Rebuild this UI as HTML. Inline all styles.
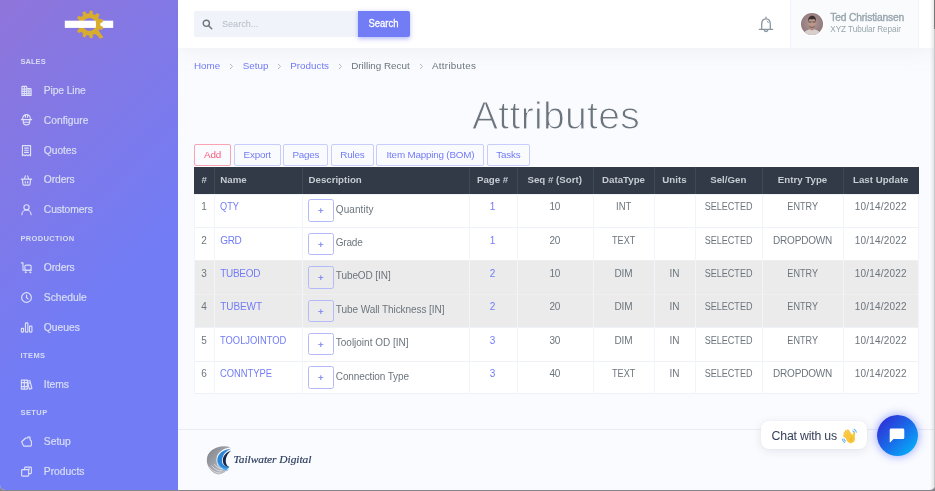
<!DOCTYPE html>
<html lang="en">
<head>
<meta charset="utf-8">
<title>Attributes</title>
<style>
*{box-sizing:border-box;margin:0;padding:0}
html{width:935px;height:491px;overflow:hidden;background:#85858b}
body{position:relative;width:935px;height:490px;overflow:hidden;border-radius:0 0 5px 5px;background:#fafbfe;font-family:"Liberation Sans",sans-serif;font-size:9.86px;color:#6c757d;line-height:1.5}
a{text-decoration:none;color:#727cf5}
.abs{position:absolute}
/* sidebar */
#side{position:absolute;left:0;top:0;width:178px;height:490px;background:linear-gradient(135deg,#8f75da 0,#727cf5 60%);z-index:5}
.st{position:absolute;left:20.5px;font-size:7.5px;font-weight:700;letter-spacing:.42px;color:#d6dcf2;line-height:10px;white-space:nowrap}
.sl{position:absolute;left:43.8px;font-size:10.3px;color:#d8def4;-webkit-text-stroke:.2px #d8def4;line-height:14px;white-space:nowrap}
.si{position:absolute;left:20px;width:13px;height:13px}
.si svg{display:block;width:13px;height:13px;fill:none;stroke:#dde2f6;stroke-width:2.1;stroke-linecap:round;stroke-linejoin:round}
/* topbar */
#top{position:absolute;left:178px;top:0;width:757px;height:48px;background:#fff;box-shadow:0 0 24px 0 rgba(154,161,171,.15);z-index:3}
#srch{position:absolute;left:16px;top:11px;width:165px;height:26px;background:#f1f3fa;border-radius:2px 0 0 2px}
#srch span{transform-origin:0 50%;position:absolute;left:27.5px;top:6px;font-size:9.8px;line-height:14px;color:#b3bcc5}
#sbtn span{display:inline-block}
#sbtn{position:absolute;left:180px;top:11px;width:51.7px;height:26px;background:#727cf5;border-radius:0 2px 2px 0;color:#fff;font-size:10.4px;-webkit-text-stroke:.3px #fff;line-height:26px;text-align:center;box-shadow:0 1.4px 4px 0 rgba(114,124,245,.5)}
#user{position:absolute;left:612px;top:0;width:129px;height:48px;background:#fafbfd;border-left:1px solid #f1f3fa;border-right:1px solid #f1f3fa}
#ava{position:absolute;left:10.4px;top:13px;width:22px;height:22px;border-radius:50%;overflow:hidden;box-shadow:0 0 0 1px #fff}
#uname{position:absolute;left:39.3px;top:10.8px;font-size:10.3px;line-height:14px;color:#98a6ad;font-weight:400;-webkit-text-stroke:.35px #98a6ad;white-space:nowrap}
#upos{position:absolute;left:39.3px;top:23.5px;font-size:8.2px;line-height:11px;color:#98a6ad;white-space:nowrap}
/* content */
#bc{position:absolute;left:194px;top:59.2px;font-size:9.86px;line-height:14px;white-space:nowrap}
#bc span,#bc a{position:absolute;top:0}
#bc svg{position:absolute;top:4.2px}
#bc .sep{color:#c3c9d0;font-size:8px}
#title{position:absolute;left:378px;width:356px;top:92.8px;letter-spacing:.3px;text-align:center;font-size:39.1px;line-height:46px;color:#6c757d;font-weight:400;white-space:nowrap;-webkit-text-stroke:1.05px #fafbfe}
.btn{position:absolute;top:144.3px;height:21.7px;border:1px solid #c9cdfb;border-radius:2px;color:#727cf5;font-size:9.86px;line-height:19.7px;text-align:center;white-space:nowrap;background:#fafbfe;letter-spacing:-.2px}
.btn.d{border-color:#fba3b5;color:#fa5c7c}
/* table */
#tbl{position:absolute;left:194px;top:166px;width:725px;height:228px;background:#fff}
#th{position:absolute;left:0;top:.5px;width:100%;height:27px;background:#313a46}
.hc{position:absolute;top:6.5px;font-size:9.7px;line-height:14px;font-weight:700;color:#c6ccd3;white-space:nowrap;text-align:center}
.row{position:absolute;left:0;width:100%;height:33.4px;border-top:1px solid #eef2f7}
.row.g{background:#ebebeb;border-top-color:#efefef}
.c{position:absolute;top:5.8px;font-size:10px;line-height:14px;white-space:nowrap;text-align:center;color:#6c757d}
a.c{color:#727cf5}
.c{transform-origin:50% 50%}
.c.l{transform-origin:0 50%}
#uname,.ds{transform-origin:0 50%}

.c.l{text-align:left}
.pb{position:absolute;left:114.2px;top:4.9px;width:25.4px;height:22.5px;border:1px solid #b4b9fa;border-radius:2.5px;background:transparent;color:#727cf5;text-align:center;line-height:22px;font-size:9.5px;-webkit-text-stroke:.2px #727cf5}
.ds{position:absolute;left:141.8px;top:8.2px;font-size:10px;line-height:14px;white-space:nowrap}
.vl{position:absolute;top:0;width:1px;height:228px;background:#f1f4f9}
.vh{position:absolute;top:0;width:1px;height:27px;background:#3f4956}
</style>
</head>
<body>

<!-- SIDEBAR -->
<div id="side">
  <svg class="abs" style="left:0;top:0" width="178" height="48" viewBox="0 0 178 48">
    <defs><clipPath id="gc"><rect x="95.7" y="14" width="12" height="20"/></clipPath></defs>
    <path id="gr" d="M100.3 25.6L103.1 27.0L102.3 29.6L99.2 29.3L98.0 31.3L99.5 34.0L97.4 35.7L95.0 33.9L92.9 34.8L92.7 37.9L90.0 38.3L89.0 35.4L86.7 35.1L84.9 37.5L82.4 36.4L83.1 33.4L81.3 31.9L78.5 33.0L77.0 30.7L79.2 28.6L78.6 26.3L75.6 25.7L75.6 23.1L78.6 22.5L79.2 20.2L77.0 18.1L78.5 15.8L81.3 16.9L83.1 15.4L82.4 12.4L84.9 11.3L86.7 13.7L89.0 13.4L90.0 10.5L92.7 10.9L92.9 14.0L95.0 14.9L97.4 13.1L99.5 14.8L98.0 17.5L99.2 19.5L102.3 19.2L103.1 21.8L100.3 23.2zM82.9 24.4a6.5 6.5 0 1 0 13.0 0a6.5 6.5 0 1 0 -13.0 0z" fill="#d8ac2d" fill-rule="evenodd"/>
    <path d="M93.6 30.6L96.8 28L103.5 37.4L99.9 38.7z" fill="#d8ac2d"/>
    <rect x="64.8" y="20.7" width="48.4" height="7.2" fill="#fff"/>
    <path d="M100.3 25.6L103.1 27.0L102.3 29.6L99.2 29.3L98.0 31.3L99.5 34.0L97.4 35.7L95.0 33.9L92.9 34.8L92.7 37.9L90.0 38.3L89.0 35.4L86.7 35.1L84.9 37.5L82.4 36.4L83.1 33.4L81.3 31.9L78.5 33.0L77.0 30.7L79.2 28.6L78.6 26.3L75.6 25.7L75.6 23.1L78.6 22.5L79.2 20.2L77.0 18.1L78.5 15.8L81.3 16.9L83.1 15.4L82.4 12.4L84.9 11.3L86.7 13.7L89.0 13.4L90.0 10.5L92.7 10.9L92.9 14.0L95.0 14.9L97.4 13.1L99.5 14.8L98.0 17.5L99.2 19.5L102.3 19.2L103.1 21.8L100.3 23.2zM82.9 24.4a6.5 6.5 0 1 0 13.0 0a6.5 6.5 0 1 0 -13.0 0z" fill="#d8ac2d" fill-rule="evenodd" clip-path="url(#gc)"/>
  </svg>

  <div class="st" style="top:56.8px;letter-spacing:0.04px">SALES</div>
  <div class="st" style="top:233.5px;letter-spacing:0.35px">PRODUCTION</div>
  <div class="st" style="top:350.5px">ITEMS</div>
  <div class="st" style="top:408px">SETUP</div>

  <div class="sl" style="top:84px;letter-spacing:-0.12px">Pipe Line</div>
  <div class="sl" style="top:113.8px;letter-spacing:-0.01px">Configure</div>
  <div class="sl" style="top:143.6px;letter-spacing:-0.07px">Quotes</div>
  <div class="sl" style="top:173.4px;letter-spacing:-0.1px">Orders</div>
  <div class="sl" style="top:203.2px;letter-spacing:-0.09px">Customers</div>
  <div class="sl" style="top:260.9px;letter-spacing:-0.1px">Orders</div>
  <div class="sl" style="top:290.7px">Schedule</div>
  <div class="sl" style="top:320.5px">Queues</div>
  <div class="sl" style="top:377.7px">Items</div>
  <div class="sl" style="top:435.2px">Setup</div>
  <div class="sl" style="top:465px">Products</div>

  <!-- icons -->
  <div class="si" style="top:84.4px"><svg viewBox="0 0 24 24"><path d="M3.5 21V5.7c0-.8.4-1.2 1.2-1.2h6.6c.8 0 1.2.4 1.2 1.2V21M12.5 8.5h6.8c.8 0 1.2.4 1.2 1.2V21M3.5 21h17M3.5 9.5h9M3.5 13.5h9M3.5 17.5h9M12.5 13h8M12.5 17h8M8 4.5V21M16.5 8.5V21"/></svg></div>
  <div class="si" style="top:113.3px"><svg viewBox="0 0 24 24"><path d="M5 12v-2a7 7 0 0 1 14 0v2M2.5 12.2h19M6 12.5V16a6 6 0 0 0 12 0v-3.5M10 3.8V8M14 3.8V8M6.5 17h11"/></svg></div>
  <div class="si" style="top:143.5px"><svg viewBox="0 0 24 24"><path d="M4.5 3h15v18.5l-2.5-1.5-2.5 1.5L12 20l-2.5 1.5L7 20l-2.5 1.5zM8.5 7.5h7M8.5 11.5h7M8.5 15.5h7"/></svg></div>
  <div class="si" style="top:173.5px"><svg viewBox="0 0 24 24"><path d="M2.5 9.5h19M4.5 9.5l1 9.5c.1 1 .8 1.5 1.7 1.5h9.6c.9 0 1.6-.5 1.7-1.5l1-9.5M8 9l2-5.5M16 9l-2-5.5M9.8 14v2.5M14.2 14v2.5"/></svg></div>
  <div class="si" style="top:202.8px"><svg viewBox="0 0 24 24"><circle cx="12" cy="8" r="4.8"/><path d="M3.5 21.5a8.5 8.5 0 0 1 17 0"/></svg></div>
  <div class="si" style="top:260.8px"><svg viewBox="0 0 24 24"><path d="M2.5 3.5h3v13.5h15.5"/><rect x="9" y="7.5" width="11.5" height="9.5" rx="2.5"/><circle cx="10.5" cy="20.8" r="1.2" fill="#dde2f6" stroke-width="1.2"/><circle cx="19" cy="20.8" r="1.2" fill="#dde2f6" stroke-width="1.2"/></svg></div>
  <div class="si" style="top:290.8px"><svg viewBox="0 0 24 24"><circle cx="12" cy="12" r="9"/><path d="M12 7.5V12l2.8 2.5"/></svg></div>
  <div class="si" style="top:320.6px"><svg viewBox="0 0 24 24"><rect x="2.5" y="13.5" width="4" height="7" rx="1"/><rect x="10" y="3.5" width="4.5" height="17" rx="1"/><rect x="17.5" y="9.5" width="4.5" height="11" rx="1"/></svg></div>
  <div class="si" style="top:377.8px"><svg viewBox="0 0 24 24"><path d="M2.5 4h5.5v16.5H2.5zM8 4h5.5v16.5H8zM13.5 6l4.7-1.3L22 19.2l-4.7 1.3zM2.5 8.5h5.5M8 8.5h5.5M2.5 16h5.5M8 16h5.5M14.6 10l4.6-1.3"/></svg></div>
  <div class="si" style="top:435.4px"><svg viewBox="0 0 24 24"><path d="M3 12.5L10.5 5.5h4V4h4v4.5l2.5 3v7.5c0 1-.5 1.5-1.5 1.5h-12c-1 0-1.5-.5-1.5-1.5z"/></svg></div>
  <div class="si" style="top:465px"><svg viewBox="0 0 24 24"><path d="M8.5 8.5V5.5c0-1 .5-1.5 1.5-1.5h9.5c1 0 1.5.5 1.5 1.5v9c0 1-.5 1.5-1.5 1.5h-3"/><rect x="3" y="8.5" width="13" height="12" rx="1.5"/><path d="M16 7.5h1.5"/></svg></div>
</div>

<!-- TOPBAR -->
<div id="top">
  <div id="srch">
    <svg class="abs" style="left:8.2px;top:7.6px" width="11" height="11" viewBox="0 0 12 12"><circle cx="4.7" cy="4.7" r="3.4" fill="none" stroke="#6c757d" stroke-width="1.5"/><path d="M7.3 7.3l3.3 3.3" stroke="#6c757d" stroke-width="1.6" stroke-linecap="round"/></svg>
    <span style="transform:scaleX(0.928)">Search...</span>
  </div>
  <div id="sbtn"><span style="transform:scaleX(0.911)">Search</span></div>
  <svg class="abs" style="left:579px;top:15px" width="18" height="19" viewBox="0 0 18 19"><path d="M9 2.2v1.3M4.7 14.2V9.2c0-3.2 1.8-5.4 4.3-5.4s4.3 2.2 4.3 5.4v5M2.4 14.4h13.2M7.3 15.3a1.8 1.8 0 0 0 3.4 0" fill="none" stroke="#8896a0" stroke-width="1.3" stroke-linecap="round" stroke-linejoin="round"/><path d="M10.4 6.2l.9 1.3" stroke="#8896a0" stroke-width="1" stroke-linecap="round"/></svg>
  <div id="user">
    <div id="ava">
      <svg width="22" height="22" viewBox="0 0 22 22"><defs><radialGradient id="ag" cx="50%" cy="45%" r="60%"><stop offset="0" stop-color="#b09a9b"/><stop offset="1" stop-color="#8c7477"/></radialGradient></defs><rect width="22" height="22" fill="url(#ag)"/><path d="M2.5 22c.3-3.5 2.5-5 5.5-5.6l3-.4 3 .4c3 .6 5.2 2.1 5.5 5.6z" fill="#d9d0ce"/><path d="M9.3 13.5h3.4v3.2c-1 .9-2.4.9-3.4 0z" fill="#b08c7e"/><ellipse cx="11" cy="10" rx="3.5" ry="4.6" fill="#bd9888"/><path d="M7.3 9.2c-.6-4 1-6.4 3.9-6.4 2.8 0 4.3 2.4 3.6 6.4-.3-1.8-.8-2.8-1.5-3.2-1.5.5-3 .5-4.6 0-.7.5-1.1 1.4-1.4 3.2z" fill="#3b2f30"/><path d="M7.7 9h2.8M11.5 9h2.8" stroke="#4a3b3a" stroke-width=".9"/><path d="M8 12c.6 2.6 5.4 2.6 6 0 0 3.6-6 3.6-6 0z" fill="#5d4843"/></svg>
    </div>
    <div id="uname" style="letter-spacing:-0.18px">Ted Christiansen</div>
    <div id="upos" style="letter-spacing:-0.07px">XYZ Tubular Repair</div>
  </div>
</div>

<!-- BREADCRUMB -->
<div id="bc">
  <a style="left:0">Home</a><svg class="sep" style="left:35.1px" width="5" height="7" viewBox="0 0 5 7"><path d="M1 1l2.6 2.5L1 6" fill="none" stroke="#b4bcc4" stroke-width="1"/></svg>
  <a style="left:48.7px">Setup</a><svg class="sep" style="left:82.6px" width="5" height="7" viewBox="0 0 5 7"><path d="M1 1l2.6 2.5L1 6" fill="none" stroke="#b4bcc4" stroke-width="1"/></svg>
  <a style="left:96.2px">Products</a><svg class="sep" style="left:144.2px" width="5" height="7" viewBox="0 0 5 7"><path d="M1 1l2.6 2.5L1 6" fill="none" stroke="#b4bcc4" stroke-width="1"/></svg>
  <span style="left:157.2px;color:#6c757d">Drilling Recut</span><svg class="sep" style="left:225.0px" width="5" height="7" viewBox="0 0 5 7"><path d="M1 1l2.6 2.5L1 6" fill="none" stroke="#b4bcc4" stroke-width="1"/></svg>
  <span style="left:238px;color:#6c757d;letter-spacing:.27px">Attributes</span>
</div>

<div id="title">Attributes</div>

<!-- BUTTONS -->
<div class="btn d" style="left:194px;width:37px">Add</div>
<div class="btn" style="left:233.8px;width:46.8px">Export</div>
<div class="btn" style="left:283.4px;width:44.9px">Pages</div>
<div class="btn" style="left:331.1px;width:42.6px">Rules</div>
<div class="btn" style="left:376.4px;width:108.1px">Item Mapping (BOM)</div>
<div class="btn" style="left:487.3px;width:42.3px">Tasks</div>

<!-- TABLE -->
<div id="tbl">
  <div class="row" style="top:27.5px">
    <div class="c l" style="left:7.2px">1</div>
    <a class="c l nm" style="left:26.3px;transform:scaleX(0.919)">QTY</a>
    <div class="pb">+</div><div class="ds" style="letter-spacing:0.07px">Quantity</div>
    <a class="c" style="left:274.5px;width:48.1px">1</a>
    <div class="c" style="left:322.6px;width:76.2px;letter-spacing:-0.26px">10</div>
    <div class="c up" style="left:398.8px;width:61.4px;transform:scaleX(0.944)">INT</div>
    <div class="c up s5" style="left:500.7px;width:67.2px;transform:scaleX(0.905)">SELECTED</div>
    <div class="c up s5" style="left:567.9px;width:81.3px;transform:scaleX(0.908)">ENTRY</div>
    <div class="c dt" style="left:649.2px;width:75.2px;letter-spacing:0.18px">10/14/2022</div>
  </div>
  <div class="row" style="top:60.9px">
    <div class="c l" style="left:7.2px">2</div>
    <a class="c l nm" style="left:26.3px;letter-spacing:-0.34px">GRD</a>
    <div class="pb">+</div><div class="ds" style="letter-spacing:-0.22px">Grade</div>
    <a class="c" style="left:274.5px;width:48.1px">1</a>
    <div class="c" style="left:322.6px;width:76.2px;letter-spacing:-0.26px">20</div>
    <div class="c up s5" style="left:398.8px;width:61.4px;transform:scaleX(0.911)">TEXT</div>
    <div class="c up s5" style="left:500.7px;width:67.2px;transform:scaleX(0.905)">SELECTED</div>
    <div class="c up" style="left:567.9px;width:81.3px;letter-spacing:-0.16px">DROPDOWN</div>
    <div class="c dt" style="left:649.2px;width:75.2px;letter-spacing:0.18px">10/14/2022</div>
  </div>
  <div class="row g" style="top:94.3px">
    <div class="c l" style="left:7.2px">3</div>
    <a class="c l nm" style="left:26.3px;letter-spacing:-0.31px">TUBEOD</a>
    <div class="pb">+</div><div class="ds" style="letter-spacing:-0.09px">TubeOD [IN]</div>
    <a class="c" style="left:274.5px;width:48.1px">2</a>
    <div class="c" style="left:322.6px;width:76.2px;letter-spacing:-0.26px">10</div>
    <div class="c up" style="left:398.8px;width:61.4px;letter-spacing:-0.11px">DIM</div>
    <div class="c up" style="left:460.2px;width:40.5px">IN</div>
    <div class="c up s5" style="left:500.7px;width:67.2px;transform:scaleX(0.905)">SELECTED</div>
    <div class="c up s5" style="left:567.9px;width:81.3px;transform:scaleX(0.908)">ENTRY</div>
    <div class="c dt" style="left:649.2px;width:75.2px;letter-spacing:0.18px">10/14/2022</div>
  </div>
  <div class="row g" style="top:127.7px">
    <div class="c l" style="left:7.2px">4</div>
    <a class="c l nm" style="left:26.3px;letter-spacing:-0.09px">TUBEWT</a>
    <div class="pb">+</div><div class="ds" style="letter-spacing:-0.07px">Tube Wall Thickness [IN]</div>
    <a class="c" style="left:274.5px;width:48.1px">2</a>
    <div class="c" style="left:322.6px;width:76.2px;letter-spacing:-0.26px">20</div>
    <div class="c up" style="left:398.8px;width:61.4px;letter-spacing:-0.11px">DIM</div>
    <div class="c up" style="left:460.2px;width:40.5px">IN</div>
    <div class="c up s5" style="left:500.7px;width:67.2px;transform:scaleX(0.905)">SELECTED</div>
    <div class="c up s5" style="left:567.9px;width:81.3px;transform:scaleX(0.908)">ENTRY</div>
    <div class="c dt" style="left:649.2px;width:75.2px;letter-spacing:0.18px">10/14/2022</div>
  </div>
  <div class="row" style="top:161.1px">
    <div class="c l" style="left:7.2px">5</div>
    <a class="c l nm" style="left:26.3px;transform:scaleX(0.938)">TOOLJOINTOD</a>
    <div class="pb">+</div><div class="ds" style="letter-spacing:-0.01px">Tooljoint OD [IN]</div>
    <a class="c" style="left:274.5px;width:48.1px">3</a>
    <div class="c" style="left:322.6px;width:76.2px;letter-spacing:-0.26px">30</div>
    <div class="c up" style="left:398.8px;width:61.4px;letter-spacing:-0.11px">DIM</div>
    <div class="c up" style="left:460.2px;width:40.5px">IN</div>
    <div class="c up s5" style="left:500.7px;width:67.2px;transform:scaleX(0.905)">SELECTED</div>
    <div class="c up s5" style="left:567.9px;width:81.3px;transform:scaleX(0.908)">ENTRY</div>
    <div class="c dt" style="left:649.2px;width:75.2px;letter-spacing:0.18px">10/14/2022</div>
  </div>
  <div class="row" style="top:194.5px;border-bottom:1px solid #eef2f7">
    <div class="c l" style="left:7.2px">6</div>
    <a class="c l nm" style="left:26.3px;transform:scaleX(0.938)">CONNTYPE</a>
    <div class="pb">+</div><div class="ds" style="letter-spacing:-0.12px">Connection Type</div>
    <a class="c" style="left:274.5px;width:48.1px">3</a>
    <div class="c" style="left:322.6px;width:76.2px;letter-spacing:-0.26px">40</div>
    <div class="c up s5" style="left:398.8px;width:61.4px;transform:scaleX(0.911)">TEXT</div>
    <div class="c up" style="left:460.2px;width:40.5px">IN</div>
    <div class="c up s5" style="left:500.7px;width:67.2px;transform:scaleX(0.905)">SELECTED</div>
    <div class="c up" style="left:567.9px;width:81.3px;letter-spacing:-0.16px">DROPDOWN</div>
    <div class="c dt" style="left:649.2px;width:75.2px;letter-spacing:0.18px">10/14/2022</div>
  </div>

  <div class="vl" style="left:0"></div>
  <div class="vl" style="left:20.3px"></div>
  <div class="vl" style="left:108.2px"></div>
  <div class="vl" style="left:274.5px"></div>
  <div class="vl" style="left:322.6px"></div>
  <div class="vl" style="left:398.8px"></div>
  <div class="vl" style="left:460.2px"></div>
  <div class="vl" style="left:500.7px"></div>
  <div class="vl" style="left:567.9px"></div>
  <div class="vl" style="left:649.2px"></div>
  <div class="vl" style="left:724px"></div>
  <div id="th">
    <div class="vh" style="left:20.3px"></div>
    <div class="vh" style="left:108.2px"></div>
    <div class="vh" style="left:274.5px"></div>
    <div class="vh" style="left:322.6px"></div>
    <div class="vh" style="left:398.8px"></div>
    <div class="vh" style="left:460.2px"></div>
    <div class="vh" style="left:500.7px"></div>
    <div class="vh" style="left:567.9px"></div>
    <div class="vh" style="left:649.2px"></div>
    <div class="hc" style="left:7.5px">#</div>
    <div class="hc" style="left:26.3px">Name</div>
    <div class="hc" style="left:114.5px">Description</div>
    <div class="hc" style="left:274.5px;width:48.1px">Page #</div>
    <div class="hc" style="left:322.6px;width:76.2px">Seq # (Sort)</div>
    <div class="hc" style="left:398.8px;width:61.4px">DataType</div>
    <div class="hc" style="left:460.2px;width:40.5px">Units</div>
    <div class="hc" style="left:500.7px;width:67.2px">Sel/Gen</div>
    <div class="hc" style="left:567.9px;width:81.3px">Entry Type</div>
    <div class="hc" style="left:649.2px;width:75.2px">Last Update</div>
  </div>
</div>

<!-- FOOTER -->
<div class="abs" style="left:178px;top:429px;width:757px;height:1px;background:#e9ecf3"></div>
<svg class="abs" style="left:205px;top:444px" width="30" height="32" viewBox="0 0 30 32">
  <defs><linearGradient id="lg" x1="0" y1="0" x2="1" y2="1"><stop offset="0" stop-color="#7d7f87"/><stop offset="1" stop-color="#c9cbd0"/></linearGradient></defs>
  <path d="M25.5 3.2C14 0 2 6 1.8 16 1.8 24 8 30 14 30.5c3.5-.5 7-2.5 9-5.5C16 27 11 22 11.5 15 12 9 17 4.5 25.5 3.2z" fill="url(#lg)"/>
  <path d="M26 4.8C18 5.5 12.5 10 12.3 16c-.1 5 3.2 9 8.7 10 1.5-.8 2.5-1.8 3.5-3.2C19 22.5 16.5 20 17 16c.5-5 4-9 9-11.2z" fill="#2b88d8"/>
  <path d="M13.5 21.5c2 3.5 5.5 5.5 9.5 5M12.6 18.5c2 4.5 6 7 11 6.5" fill="none" stroke="#7fb9ea" stroke-width=".7"/>
  <path d="M4 22.5c2.5 4 6.5 6.5 11.5 6.5M6.5 21.5c2.5 3.5 6 5.5 10.5 5.5M9 20c2.2 3 5.2 4.8 9 4.8" fill="none" stroke="#fafbfe" stroke-width=".6" opacity=".85"/>
  <path d="M26.3 6.5C21.5 8 18 11.5 17.8 16c-.1 3.5 1.7 6.5 6.2 7.2C21.5 21.5 20.5 19 20.8 16c.4-4 2.2-7 5.5-9.5z" fill="#17284a"/>
</svg>
<div class="abs" id="tw" style="left:233.5px;top:452px;font-family:'Liberation Serif',serif;font-style:italic;font-weight:400;font-size:11.4px;line-height:14px;color:#2b3c60;-webkit-text-stroke:.2px #2b3c60;white-space:nowrap;letter-spacing:-0.03px">Tailwater Digital</div>

<!-- CHAT -->
<div class="abs" id="chat" style="left:761px;top:420.6px;width:106px;height:28.5px;background:#fff;border-radius:8px;box-shadow:0 2px 10px rgba(30,40,80,.1),0 0 2px rgba(30,40,80,.05)">
  <div class="abs" id="chtx" style="left:10.6px;top:7px;font-size:12.3px;line-height:16px;color:#364059;white-space:nowrap;letter-spacing:-0.19px">Chat with us</div>
  <svg class="abs" style="left:79.5px;top:7px" width="16" height="16" viewBox="0 0 16 16" aria-label="waving hand">
    <path d="M13 1.3c1.3.6 2.1 1.6 2.4 3M11.8 2.9c.8.3 1.4.9 1.7 1.8M1.3 11c.2 1.5 1 2.7 2.4 3.5M3 10.8c.2.9.7 1.6 1.5 2.1" fill="none" stroke="#6db3ef" stroke-width="1.1" stroke-linecap="round"/>
    <g fill="none" stroke="#f9c53a" stroke-width="2.1" stroke-linecap="round">
      <path d="M10 7L6.8 2.3"/><path d="M8.4 7.8L4.8 3.2"/><path d="M7.2 9L3.5 5"/><path d="M6.5 10.5L3 7.5"/><path d="M12.3 9.5L13.2 5.2"/>
    </g>
    <ellipse cx="9.6" cy="10.6" rx="4.3" ry="4.6" transform="rotate(-30 9.6 10.6)" fill="#f9c53a"/>
    <path d="M11.2 9.2c-1.1.8-1.6 2-1.3 3.4" fill="none" stroke="#e3a51f" stroke-width=".7" stroke-linecap="round"/>
  </svg>
</div>
<div class="abs" id="cbtn" style="left:876.7px;top:414.8px;width:41px;height:41px;border-radius:50%;background:linear-gradient(135deg,#2f2fd6 10%,#1a6ae8 50%,#06aaf8 88%);box-shadow:0 0 8px 1px rgba(60,80,255,.45)">
  <svg class="abs" style="left:12.5px;top:13px" width="16" height="15" viewBox="0 0 16 15"><path d="M2.2 0.5h11.6c.9 0 1.5.6 1.5 1.5v7.6c0 .9-.6 1.5-1.5 1.5H4.5L1.3 14.2c-.3.3-.6.1-.6-.3V2c0-.9.6-1.5 1.5-1.5z" fill="#fff"/></svg>
</div>

<!-- WINDOW EDGES -->
<div class="abs" style="left:934px;top:0;width:1px;height:29px;background:#77777a;z-index:9"></div>
<div class="abs" style="left:934px;top:29px;width:1px;height:461px;background:#c9c9cc;z-index:9"></div>
<div class="abs" style="left:930px;top:0;width:4px;height:490px;background:linear-gradient(90deg,rgba(0,0,0,0),rgba(0,0,0,.09));z-index:9"></div>

</body>
</html>
